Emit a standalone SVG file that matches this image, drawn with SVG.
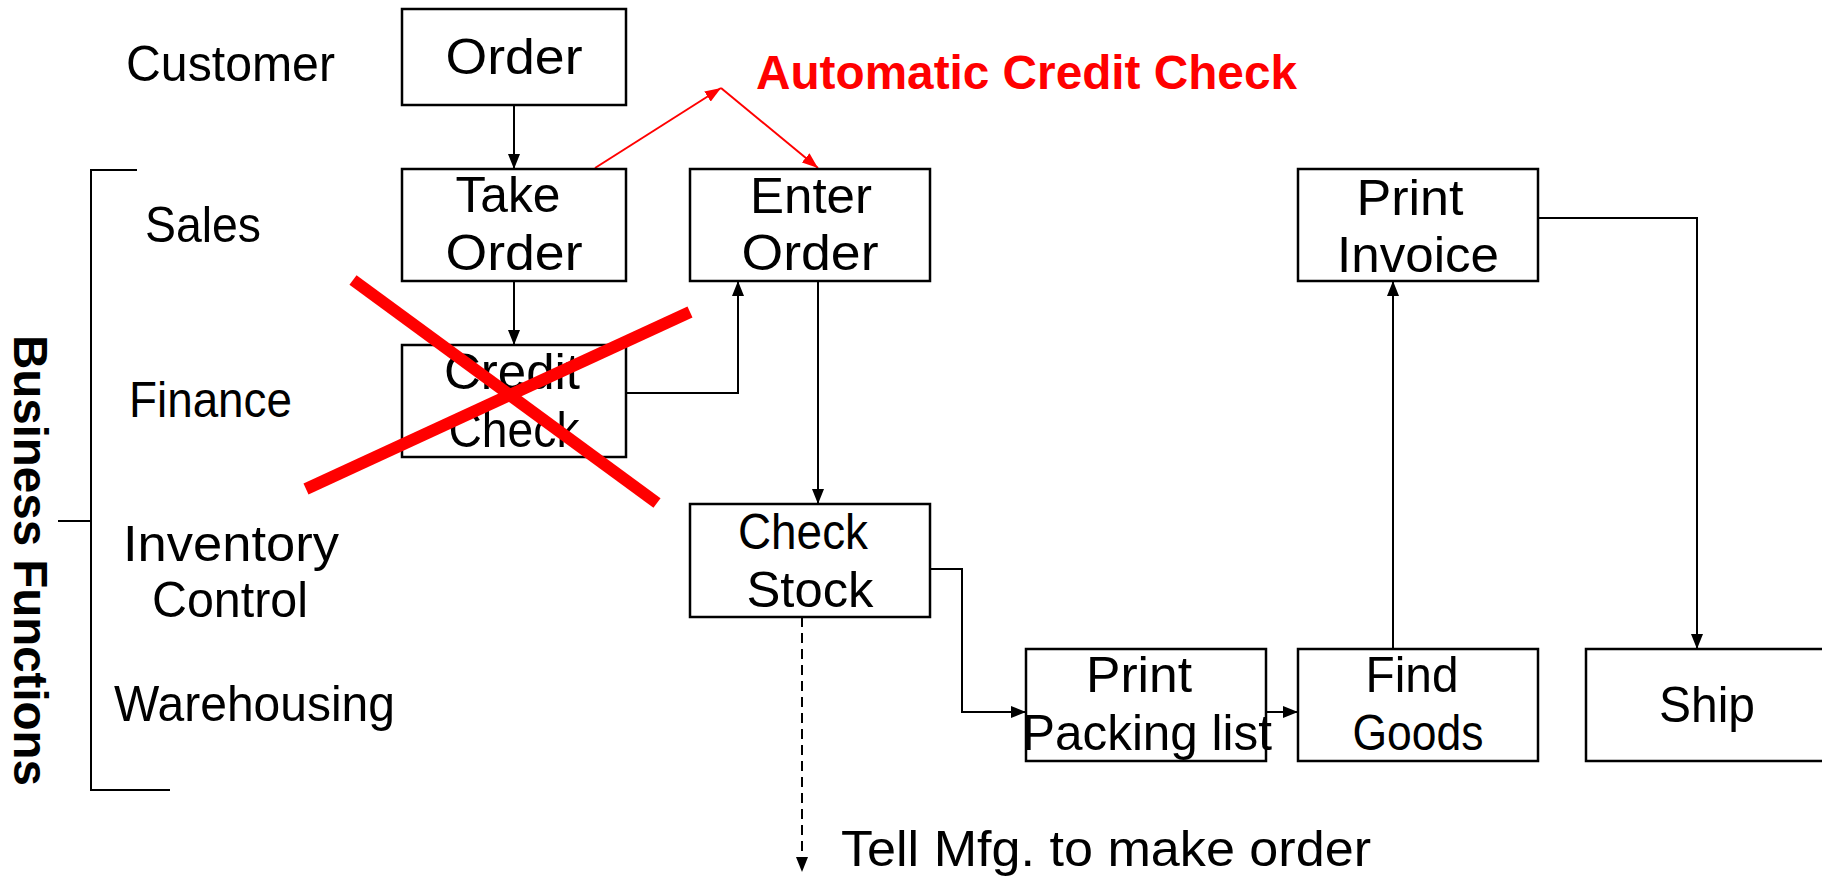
<svg xmlns="http://www.w3.org/2000/svg" width="1822" height="877" viewBox="0 0 1822 877">
<style>
.box{fill:#fff;stroke:#000;stroke-width:2.5}
.t{font-family:"Liberation Sans",Arial,sans-serif;font-size:50px;fill:#000;text-anchor:middle}
.lbl{font-family:"Liberation Sans",Arial,sans-serif;font-size:50px;fill:#000}
.c{fill:none;stroke:#000;stroke-width:2}
.r{fill:none;stroke:#ff0000;stroke-width:2}
.x{stroke:#ff0000;stroke-width:12;stroke-linecap:butt}
</style>
<defs>
<marker id="ab" markerUnits="userSpaceOnUse" markerWidth="15" markerHeight="12" refX="15" refY="6" orient="auto">
<path d="M0,0 L15,6 L0,12 z" fill="#000"/>
</marker>
<marker id="ar" markerUnits="userSpaceOnUse" markerWidth="16" markerHeight="12" refX="16" refY="6" orient="auto">
<path d="M0,0 L16,6 L0,12 z" fill="#ff0000"/>
</marker>
</defs>
<rect width="1822" height="877" fill="#fff"/>

<g id="lanes">
<text class="lbl" x="126" y="81" textLength="209" lengthAdjust="spacingAndGlyphs">Customer</text>
<text class="lbl" x="145" y="242" textLength="116" lengthAdjust="spacingAndGlyphs">Sales</text>
<text class="lbl" x="129" y="417" textLength="163" lengthAdjust="spacingAndGlyphs">Finance</text>
<text class="t" x="231" y="561" textLength="216" lengthAdjust="spacingAndGlyphs">Inventory</text>
<text class="t" x="230" y="617" textLength="156" lengthAdjust="spacingAndGlyphs">Control</text>
<text class="lbl" x="114" y="721" textLength="281" lengthAdjust="spacingAndGlyphs">Warehousing</text>
</g>

<g id="bracket">
<path d="M137,170 H91 V790 H170 M58,521 H91" fill="none" stroke="#000" stroke-width="2"/>
<text transform="translate(14,335) rotate(90)" font-family="'Liberation Sans',Arial,sans-serif" font-weight="bold" font-size="48" textLength="451" lengthAdjust="spacingAndGlyphs">Business Functions</text>
</g>

<g id="connectors">
<line class="c" x1="514" y1="105" x2="514" y2="169" marker-end="url(#ab)"/>
<line class="c" x1="514" y1="281" x2="514" y2="345" marker-end="url(#ab)"/>
<polyline class="c" points="626,393 738,393 738,281" marker-end="url(#ab)"/>
<line class="c" x1="818" y1="281" x2="818" y2="504" marker-end="url(#ab)"/>
<polyline class="c" points="930,569 962,569 962,712 1026,712" marker-end="url(#ab)"/>
<line class="c" x1="1266" y1="712" x2="1298" y2="712" marker-end="url(#ab)"/>
<line class="c" x1="1393" y1="649" x2="1393" y2="281" marker-end="url(#ab)"/>
<polyline class="c" points="1538,218 1697,218 1697,649" marker-end="url(#ab)"/>
<line class="c" x1="802" y1="617" x2="802" y2="872" stroke-dasharray="10,6" marker-end="url(#ab)"/>
<line class="r" x1="595" y1="168" x2="721" y2="88" marker-end="url(#ar)"/>
<line class="r" x1="721" y1="88" x2="818" y2="168" marker-end="url(#ar)"/>
</g>

<g id="n-order"><rect class="box" x="402" y="9" width="224" height="96"/><text class="t" x="514" y="74" textLength="137" lengthAdjust="spacingAndGlyphs">Order</text></g>
<g id="n-take"><rect class="box" x="402" y="169" width="224" height="112"/><text class="t" x="508" y="212" textLength="105" lengthAdjust="spacingAndGlyphs">Take</text><text class="t" x="514" y="270" textLength="137" lengthAdjust="spacingAndGlyphs">Order</text></g>
<g id="n-enter"><rect class="box" x="690" y="169" width="240" height="112"/><text class="t" x="811" y="213" textLength="122" lengthAdjust="spacingAndGlyphs">Enter</text><text class="t" x="810" y="270" textLength="137" lengthAdjust="spacingAndGlyphs">Order</text></g>
<g id="n-credit"><rect class="box" x="402" y="345" width="224" height="112"/><text class="t" x="512" y="389" textLength="136" lengthAdjust="spacingAndGlyphs">Credit</text><text class="t" x="514" y="447" textLength="131" lengthAdjust="spacingAndGlyphs">Check</text></g>
<g id="n-stock"><rect class="box" x="690" y="504" width="240" height="113"/><text class="t" x="803" y="549" textLength="130" lengthAdjust="spacingAndGlyphs">Check</text><text class="t" x="810" y="607" textLength="127" lengthAdjust="spacingAndGlyphs">Stock</text></g>
<g id="n-packing"><rect class="box" x="1026" y="649" width="240" height="112"/><text class="t" x="1139" y="692" textLength="106" lengthAdjust="spacingAndGlyphs">Print</text><text class="t" x="1147" y="750" textLength="250" lengthAdjust="spacingAndGlyphs">Packing list</text></g>
<g id="n-find"><rect class="box" x="1298" y="649" width="240" height="112"/><text class="t" x="1412" y="692" textLength="93" lengthAdjust="spacingAndGlyphs">Find</text><text class="t" x="1418" y="750" textLength="131" lengthAdjust="spacingAndGlyphs">Goods</text></g>
<g id="n-invoice"><rect class="box" x="1298" y="169" width="240" height="112"/><text class="t" x="1410" y="215" textLength="107" lengthAdjust="spacingAndGlyphs">Print</text><text class="t" x="1418" y="272" textLength="162" lengthAdjust="spacingAndGlyphs">Invoice</text></g>
<g id="n-ship"><rect class="box" x="1586" y="649" width="242" height="112"/><text class="t" x="1707" y="722" textLength="96" lengthAdjust="spacingAndGlyphs">Ship</text></g>

<g id="notes">
<text x="756" y="89" font-family="'Liberation Sans',Arial,sans-serif" font-weight="bold" font-size="48" fill="#ff0000" textLength="541" lengthAdjust="spacingAndGlyphs">Automatic Credit Check</text>
<text class="lbl" x="841" y="866" textLength="530" lengthAdjust="spacingAndGlyphs">Tell Mfg. to make order</text>
</g>

<g id="cross">
<line class="x" x1="353" y1="280" x2="657" y2="503"/>
<line class="x" x1="306" y1="489" x2="690" y2="312"/>
</g>
</svg>
